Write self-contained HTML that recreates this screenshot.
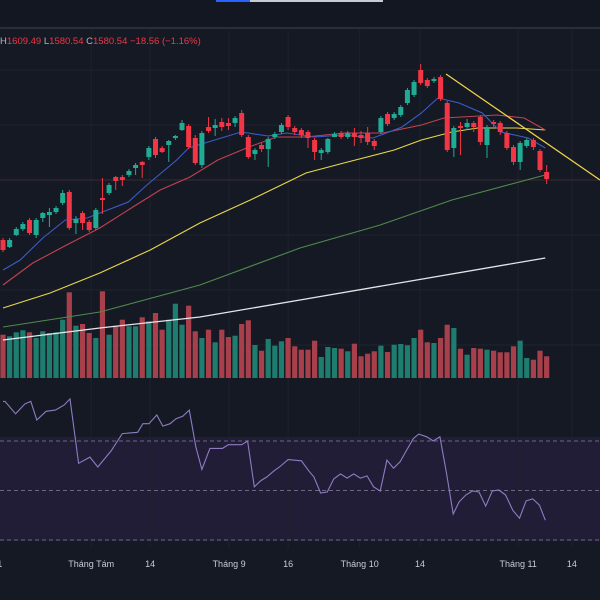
<!DOCTYPE html>
<html><head><meta charset="utf-8">
<style>
html,body{margin:0;padding:0;background:#151924;}
svg{display:block;font-family:"Liberation Sans",sans-serif;}
</style></head>
<body>
<svg id="chart" width="600" height="600" viewBox="0 0 600 600">
  <rect x="0" y="0" width="600" height="600" fill="#151924"/>
  <rect x="0" y="0" width="600" height="28" fill="#131722"/>
  <rect x="216" y="0" width="34" height="2" fill="#2962ff"/>
  <rect x="250" y="0" width="133" height="2" fill="#c8cbd3"/>
  <rect x="0" y="27" width="600" height="2" fill="#2a2e39"/>
  <rect x="0" y="437" width="600" height="104" fill="#221d36"/>
  <g id="grid"></g>
  <line x1="0" y1="180" x2="600" y2="180" stroke="#3a2a33" stroke-width="1"/>
  <g id="vol"></g>
  <g id="mas"></g>
  <g id="candles"></g>
  <line x1="446" y1="74" x2="600" y2="180" stroke="#f0d34a" stroke-width="1.3"/>
  <g id="rsi"></g>
  <g id="xaxis"></g>
  <text x="0" y="44" font-size="9.5"><tspan fill="#b2b5be">H</tspan><tspan fill="#f23645">1609.49 </tspan><tspan fill="#b2b5be">L</tspan><tspan fill="#f23645">1580.54 </tspan><tspan fill="#b2b5be">C</tspan><tspan fill="#f23645">1580.54  −18.56 (−1.16%)</tspan></text>
</svg>
<script>
// candle data (price units)
const opens  = [1550,1546.5,1552.5,1555.5,1560,1552.5,1561,1562.5,1564,1568.5,1574,1558.5,1563.5,1559,1556,1571,1573.5,1581.5,1581.5,1582.5,1586,1589,1591.5,1600.5,1596,1597.5,1601,1605,1607,1601,1587.5,1606.5,1606,1609,1608.5,1608.5,1613.5,1601.5,1593,1597.5,1595.5,1601.5,1604,1611.5,1606,1605,1604,1600,1593.5,1594,1601.5,1603.5,1601.5,1603.5,1602.5,1603.5,1599.5,1604,1613,1611,1612.5,1618.5,1622.5,1635,1630,1629.5,1631.5,1618.5,1596,1607,1606.5,1608.5,1611.5,1597.5,1609,1608.5,1603.5,1596.5,1589,1597,1600,1594.5,1584];
const closes = [1545,1550,1555.5,1558,1553.5,1560,1563.5,1564,1566,1573.5,1556,1560.5,1558.5,1555,1565,1570,1577.5,1579.5,1580,1584.5,1587.5,1587.5,1596,1592.5,1594,1599.5,1602,1608.5,1596.5,1588.5,1603.5,1604.5,1607.5,1606.5,1607,1611,1602.5,1591.5,1595,1595.5,1600.5,1603,1607.5,1606.5,1604,1602.5,1601,1594,1595,1600.5,1603,1601.5,1603.5,1601.5,1601,1599,1597,1611,1608,1613,1616.5,1625,1629,1628.5,1627,1630.5,1620.5,1595,1606,1606,1608.5,1606.5,1599,1606.5,1608,1604,1596,1589,1598.5,1600,1596.5,1585,1580.5];
const highs  = [1551,1551,1556.5,1559,1561,1561,1564,1566,1567,1575,1575,1562,1564.5,1560,1566,1581,1578.5,1582,1582.5,1585.5,1588.5,1589.5,1597,1601.5,1597,1600,1602.5,1610,1608,1602.5,1604.5,1611.5,1610.5,1611,1611,1612,1615,1602.5,1596,1598.5,1601.5,1604,1608.5,1612.5,1607,1606,1605,1601,1596,1601,1604,1604.5,1604.5,1606,1604.5,1606.5,1600.5,1612,1614,1614,1617.5,1626,1630,1638,1631,1631.5,1632.5,1619.5,1607,1609,1610.5,1609.5,1612.5,1607.5,1610,1609.5,1604.5,1597.5,1599.5,1601,1601,1595.5,1587.5];
const lows   = [1544,1546,1552,1554.5,1552.5,1551,1559,1556.5,1563,1567.5,1555,1553,1555,1554,1555,1563,1572.5,1575,1577,1581.5,1582.5,1581,1590,1591,1593.5,1589,1600,1604.5,1595.5,1587.5,1586,1603.5,1602,1604.5,1605,1606.5,1601.5,1590.5,1590,1594,1586.5,1600.5,1603,1605,1602.5,1601,1596,1590,1590,1593,1601.5,1600.5,1600.5,1597,1598.5,1597.5,1595,1603,1607,1610,1611.5,1617.5,1621.5,1627.5,1626,1628.5,1619.5,1594,1591.5,1592.5,1605,1604,1597.5,1591,1606,1602.5,1595,1587.5,1585,1596,1595,1584,1578];
// volume (thousands)
const volumes = [433,417,457,477,457,400,467,450,457,583,857,523,540,450,400,867,433,523,583,517,517,607,567,650,483,583,743,533,723,467,400,483,357,483,410,423,540,577,330,273,390,323,367,400,317,283,283,373,210,310,300,293,267,343,217,243,267,323,260,333,340,327,400,483,357,350,400,533,500,293,233,300,293,283,273,257,257,317,373,200,183,273,217];
// moving averages: candle index + price
const maBlueIdx = [0,2.6,6,9.4,12.7,14.6,18.9,21.7,26.2,28,35.9,40,42.8,46.9,51.4,55.8,60.2,63.1,65.6,68.8,72.3,75.1,79.2,81.8];
const maBlueVal = [1535,1540,1551,1560,1561,1563.5,1569,1577.5,1590,1596,1604,1602,1603.5,1601.5,1602.5,1601,1606.5,1613.5,1621,1618.5,1613.5,1604,1601,1596];
const maRedIdx = [0,4.5,9.6,14.6,19.6,23.7,28.2,32.4,37.1,41.2,45.7,51.4,57.3,63.1,66.5,74.5,78.6,81.8];
const maRedVal = [1527.5,1538.5,1547.5,1556,1566.5,1575,1581.5,1590,1596.5,1601.5,1601.5,1603.5,1603.5,1607.5,1611,1612.5,1611,1605];
const maYelIdx = [0,7.1,14.6,22.2,29.7,37.3,45.7,51.4,59,63.1,67.7,71.6,77.5,81.8];
const maYelVal = [1516,1523.5,1533.5,1545,1558.5,1570,1583.5,1588.5,1595,1600,1604,1606,1606,1605];
const maGrnIdx = [0,14.6,29.7,44.8,56.9,67.7,81.8];
const maGrnVal = [1506.5,1514,1527.5,1546,1557.5,1570,1582.5];
const maWhtIdx = [0,14.6,29.7,44.8,62.4,81.8];
const maWhtVal = [1500,1506,1511.5,1520,1530,1541];
// RSI
const rsiIdx = [0,0.3,1.9,3.3,4.2,5.1,6.5,7.9,9.2,10.1,11.4,13.1,14.3,16.3,18,20.3,21.1,22,23.2,24.1,25.2,26.1,27.1,28.1,29.1,30,31.2,33.1,34,36,36.9,37.9,38.9,39.8,40.9,41.7,43,45,46.1,46.9,47.9,48.9,49.9,50.9,51.9,52.9,53.9,54.9,55.9,56.9,57.9,58.9,59.9,60.9,61.9,62.7,63.9,64.9,65.9,66.9,67.9,68.8,69.8,70.8,71.8,72.8,73.8,74.8,75.8,76.9,77.9,78.9,79.9,80.9,81.8];
const rsiVal = [86,86,81,85,86,78.5,82,82.5,84.5,87,61,63.5,59.5,66,73,73.5,77,77,80.5,76,77,79,80,82.5,67.5,58.5,67,67,68.5,68.5,70,51.5,54,55.5,58,59.5,62.5,62,58,55.5,49,49.4,54.7,56.7,55,56.7,55,55.9,51.5,49.8,62.3,59,61.6,66.4,71,72.8,71.7,70,71.7,57,40.5,45.4,48.2,49.8,49.4,43.7,49.8,50.2,48.2,42,38.8,45.8,46.6,44.1,38,35.3];
const xLabels = ["1","Tháng Tám","14","Tháng 9","16","Tháng 10","14","Tháng 11","14"];
const xLabelIdx = [-0.5,13.3,22.2,34.1,43,53.8,62.9,77.7,85.8];

const NS="http://www.w3.org/2000/svg";
function X(i){return 3+i*6.63;}
function Y(p){return 180-(p-1580)*2;}
function VY(v){return 378-v/10;}
function RY(r){return 490.5-(r-50)*2.475;}
function mk(tag,attrs,parent){const e=document.createElementNS(NS,tag);for(const k in attrs)e.setAttribute(k,attrs[k]);parent.appendChild(e);return e;}

const grid=document.getElementById('grid');
[70,125,180,235,290,345].forEach(y=>{
  const l=mk('line',{x1:0,x2:600,y1:y,y2:y,stroke:'#1e222d','stroke-width':1},grid);
  
  
});
xLabelIdx.forEach(i=>{
  const l=mk('line',{x1:X(i),x2:X(i),y1:30,y2:548,stroke:'#1e222d','stroke-width':1},grid);
  
  
});

const vol=document.getElementById('vol');
volumes.forEach((v,i)=>{
  const up=closes[i]>=opens[i];
  const r=mk('rect',{x:X(i)-2.6,y:VY(v),width:5.2,height:378-VY(v),fill:up?'#1f7d70':'#a8404b'},vol);
  
  
});

const mas=document.getElementById('mas');
function line(idx,val,color,name,w){
  const d=idx.map((i,k)=>(k?'L':'M')+X(i).toFixed(1)+' '+Y(val[k]).toFixed(1)).join(' ');
  const p=mk('path',{d:d,fill:'none',stroke:color,'stroke-width':w},mas);
  
  
}
line(maWhtIdx,maWhtVal,'#e6e6ea','ma200-line',1.3);
line(maGrnIdx,maGrnVal,'#4f8a4c','ma100-line',1.1);
line(maYelIdx,maYelVal,'#e8d84a','ma50-line',1.1);
line(maRedIdx,maRedVal,'#c2424f','ma20-line',1.1);
line(maBlueIdx,maBlueVal,'#3b5cc7','ma10-line',1.1);

const cg=document.getElementById('candles');
opens.forEach((o,i)=>{
  const c=closes[i],up=c>=o,col=up?'#22ab94':'#f23645';
  const g=mk('g',{},cg);
  
  
  mk('line',{x1:X(i),x2:X(i),y1:Y(highs[i]),y2:Y(lows[i]),stroke:col,'stroke-width':1},g);
  const top=Math.min(Y(o),Y(c)),h=Math.max(1.2,Math.abs(Y(o)-Y(c)));
  mk('rect',{x:X(i)-2.5,y:top,width:5,height:h,fill:col},g);
});

const rg=document.getElementById('rsi');
[70,50,30].forEach(v=>{
  const l=mk('line',{x1:0,x2:600,y1:RY(v),y2:RY(v),stroke:'#6b6880','stroke-width':1,'stroke-dasharray':'4 3'},rg);
  
  
});
const rd=rsiIdx.map((i,k)=>(k?'L':'M')+X(i).toFixed(1)+' '+RY(rsiVal[k]).toFixed(1)).join(' ');
const rp=mk('path',{d:rd,fill:'none',stroke:'#8e7cc3','stroke-width':1.1},rg);



const xa=document.getElementById('xaxis');
xLabels.forEach((t,k)=>{
  const e=mk('text',{x:X(xLabelIdx[k]),y:567,'font-size':9,fill:'#c9ccd4','text-anchor':'middle'},xa);
  e.textContent=t;
  
  
});
</script>
</body></html>
